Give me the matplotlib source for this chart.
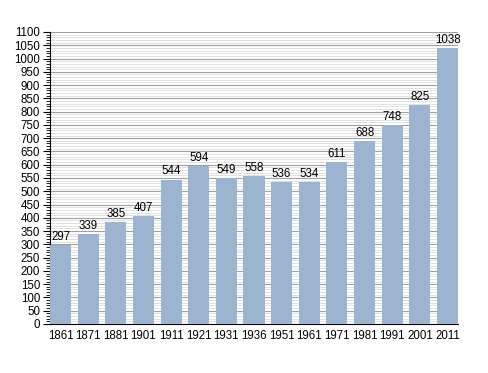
import matplotlib
matplotlib.use("Agg")
import matplotlib.pyplot as plt
from matplotlib.ticker import MultipleLocator

years = ["1861", "1871", "1881", "1901", "1911", "1921", "1931", "1936",
         "1951", "1961", "1971", "1981", "1991", "2001", "2011"]
population = [297, 339, 385, 407, 544, 594, 549, 558, 536, 534, 611, 688, 748, 825, 1038]

plt.rcParams['font.family'] = ['Liberation Sans', 'DejaVu Sans']

fig = plt.figure(figsize=(4.88, 3.73), dpi=100)
ax = fig.add_axes([50/488, 1-324/373, 408/488, (324-32)/373])

x = list(range(len(years)))
w = 0.76
ax.bar(x, population, width=w, color='#9cb4cf', zorder=3)
for xi, v in zip(x, population):
    ax.text(xi, v + 8, str(v), ha='center', va='bottom', fontsize=8.3, zorder=4)

ax.set_xlim(-w/2, len(years) - 1 + w/2)
ax.set_ylim(0, 1100)
ax.yaxis.set_major_locator(MultipleLocator(50))
ax.yaxis.set_minor_locator(MultipleLocator(10))
ax.grid(which='major', axis='y', color='#a0a0a0', linewidth=0.8, zorder=1)
ax.grid(which='minor', axis='y', color='#dcdcdc', linewidth=0.6, zorder=0)
ax.set_xticks(x)
ax.set_xticklabels(years)
ax.tick_params(axis='x', length=0, labelsize=8.3, pad=4)
ax.tick_params(axis='y', which='major', length=5, labelsize=8.3, pad=2)
ax.tick_params(axis='y', which='minor', length=3)
for s in ['top', 'right']:
    ax.spines[s].set_visible(False)
ax.spines['left'].set_linewidth(0.8)
ax.spines['bottom'].set_linewidth(0.8)

fig.savefig("out.png", dpi=100)
